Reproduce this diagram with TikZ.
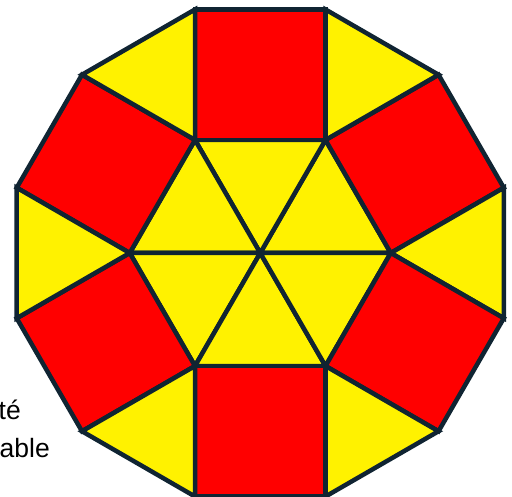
\documentclass[tikz,border=0pt]{standalone}
\usepackage{fontspec}
\setmainfont{Liberation Sans}
\usetikzlibrary{calc}
\definecolor{edgecol}{RGB}{16,36,50}
\begin{document}
\begin{tikzpicture}[x=1pt,y=1pt,
  edge/.style={draw=edgecol,line width=4.5pt,line join=miter},
  sqface/.style={edge,fill=red},
  triface/.style={edge,fill=yellow},
  lbl/.style={anchor=base east,inner sep=0pt,font=\fontsize{26.5}{30}\selectfont}]
\useasboundingbox (0,0) rectangle (512,497);
\node[lbl] (t1) at (21,77) {té};
\node[lbl] (t2) at (50,39) {able};
\coordinate (O) at (260.25,244);
\def\s{130.5}
\foreach \k in {0,...,5}{
  \coordinate (H\k) at ($(O)+(60*\k:\s)$);
}
\foreach \k in {0,...,5}{
  \pgfmathtruncatemacro\n{mod(\k+1,6)}
  \coordinate (A\k) at ($(H\k)+(60*\k+30:\s)$);
  \coordinate (B\k) at ($(H\n)+(60*\k+30:\s)$);
}
\foreach \k in {0,...,5}{
  \pgfmathtruncatemacro\n{mod(\k+1,6)}
  \pgfmathtruncatemacro\p{mod(\k+5,6)}
  \path[triface] (O) -- (H\k) -- (H\n) -- cycle;
  \path[sqface] (H\k) -- (A\k) -- (B\k) -- (H\n) -- cycle;
  \path[triface] (H\k) -- (B\p) -- (A\k) -- cycle;
}
\end{tikzpicture}
\end{document}
